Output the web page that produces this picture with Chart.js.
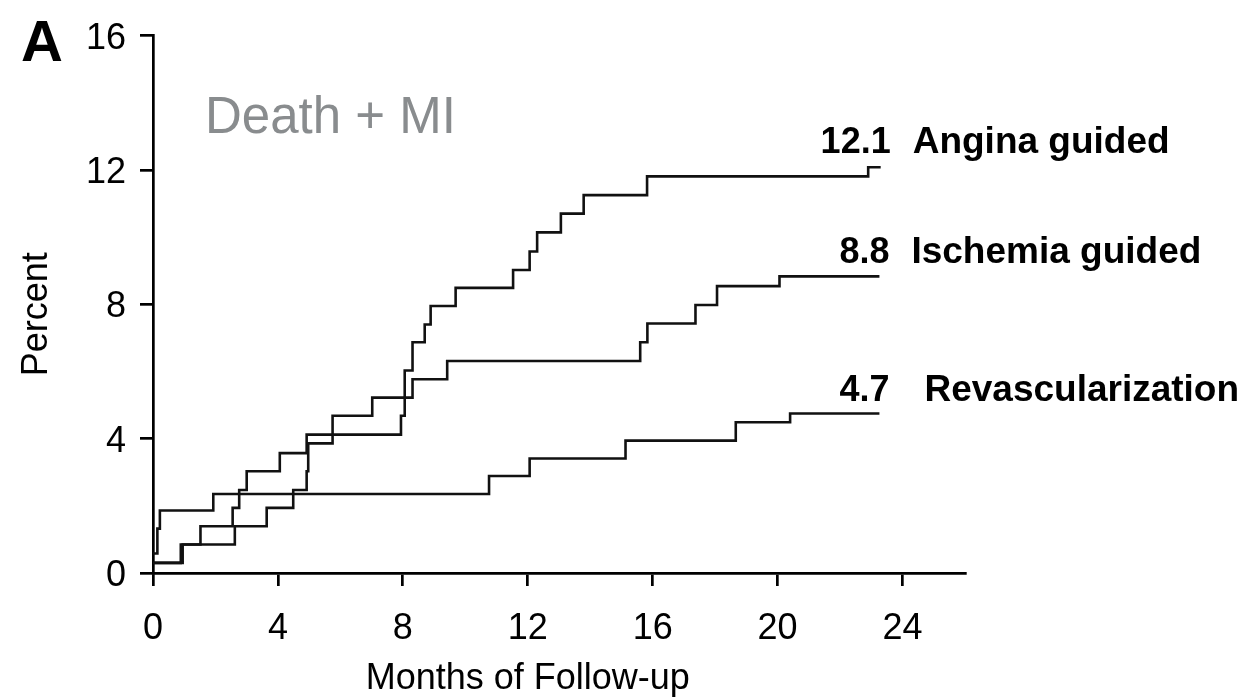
<!DOCTYPE html>
<html>
<head>
<meta charset="utf-8">
<script src="https://cdn.jsdelivr.net/npm/chart.js@4/dist/chart.umd.min.js"></script>
<style>
  html, body { margin: 0; padding: 0; background: #ffffff; }
  #wrap { width: 1246px; height: 697px; position: relative; }
  canvas { display: block; }
</style>
</head>
<body>
<div id="wrap"><canvas id="c" width="1246" height="697"></canvas></div>
<script>
// ---- Data (months of follow-up, cumulative percent after each step) ----
const xTicks = [0, 4, 8, 12, 16, 20, 24];
const yTicks = [0, 4, 8, 12, 16];

const anginaT = [0, 0.89, 1.52, 2.55, 2.76, 3.00, 4.06, 4.92, 7.94, 8.06, 8.31, 8.70, 8.89, 9.69, 11.53, 12.06, 12.30, 13.06, 13.79, 15.82, 22.90, 23.30];
const anginaV = [0.30, 0.85, 1.39, 1.94, 2.47, 3.03, 3.57, 4.12, 4.68, 6.03, 6.87, 7.40, 7.95, 8.49, 9.02, 9.57, 10.14, 10.70, 11.25, 11.81, 12.08, 12.08];

const ischemiaT = [0, 0.95, 2.62, 3.64, 4.49, 4.92, 4.97, 5.75, 7.02, 8.31, 9.42, 15.60, 15.83, 17.37, 18.06, 20.06, 23.26];
const ischemiaV = [0.30, 0.85, 1.39, 1.94, 2.47, 3.03, 3.86, 4.68, 5.22, 5.77, 6.31, 6.87, 7.43, 7.98, 8.54, 8.83, 8.83];

const revascT = [0, 0.14, 0.22, 1.93, 10.76, 12.06, 15.13, 18.66, 20.40, 23.26];
const revascV = [0.58, 1.32, 1.86, 2.35, 2.89, 3.41, 3.94, 4.49, 4.75, 4.75];

const seriesNames = ['Angina guided', 'Ischemia guided', 'Revascularization'];
const endValues = [12.1, 8.8, 4.7];
const endTimes = [23.3, 23.26, 23.26];

const panelLetter = 'A';
const panelTitle = 'Death + MI';
const xTitle = 'Months of Follow-up';
const yTitle = 'Percent';

// ---- build ----
function pts(t, v) { return t.map((x, i) => ({ x: x, y: v[i] })); }
const FONT = "'Liberation Sans', Arial, Helvetica, sans-serif";

const lineStyle = {
  borderColor: '#111111',
  borderWidth: 2.6,
  pointRadius: 0,
  fill: false,
  stepped: true,
  tension: 0,
  borderJoinStyle: 'miter',
  borderCapStyle: 'butt'
};

const annotations = {
  id: 'annotations',
  afterDraw(chart) {
    const ctx = chart.ctx;
    const xs = chart.scales.x, ys = chart.scales.y;
    ctx.save();
    ctx.fillStyle = '#000';
    // panel letter
    ctx.font = "bold 58px " + FONT;
    ctx.textAlign = 'left';
    ctx.textBaseline = 'alphabetic';
    ctx.fillText(panelLetter, 21, 61);
    // panel title
    ctx.fillStyle = '#898c8e';
    ctx.font = "51px " + FONT;
    ctx.fillText(panelTitle, 205, 133);
    // axis titles
    ctx.fillStyle = '#000';
    ctx.font = "36px " + FONT;
    ctx.textAlign = 'center';
    ctx.fillText(xTitle, xs.getPixelForValue(12), 689);
    ctx.save();
    ctx.translate(47, (ys.getPixelForValue(0) + ys.getPixelForValue(16)) / 2 + 10);
    ctx.rotate(-Math.PI / 2);
    ctx.fillText(yTitle, 0, 0);
    ctx.restore();
    // end labels
    const nameGap = [22, 22, 35];
    for (let i = 0; i < seriesNames.length; i++) {
      const yb = ys.getPixelForValue(endValues[i]) - 14;
      const xr = xs.getPixelForValue(endTimes[i]) + 10;
      ctx.font = "bold 36px " + FONT;
      ctx.textAlign = 'right';
      ctx.fillText(endValues[i].toFixed(1), xr, yb);
      ctx.font = "bold 37px " + FONT;
      ctx.textAlign = 'left';
      ctx.fillText(seriesNames[i], xr + nameGap[i], yb);
    }
    ctx.restore();
  }
};

const axisCommon = {
  grid: { display: true, drawOnChartArea: false, drawTicks: true, tickLength: 13, color: '#000', lineWidth: 2.7 },
  border: { display: true, color: '#000', width: 2.7 }
};

new Chart(document.getElementById('c'), {
  type: 'line',
  data: {
    datasets: [
      Object.assign({ label: seriesNames[0], data: pts(anginaT, anginaV) }, lineStyle),
      Object.assign({ label: seriesNames[1], data: pts(ischemiaT, ischemiaV) }, lineStyle),
      Object.assign({ label: seriesNames[2], data: pts(revascT, revascV) }, lineStyle)
    ]
  },
  options: {
    responsive: false,
    animation: false,
    devicePixelRatio: 1,
    layout: { padding: { left: 0, top: 30, right: 281, bottom: 0 }, autoPadding: false },
    plugins: { legend: { display: false }, tooltip: { enabled: false }, title: { display: false } },
    scales: {
      x: Object.assign({
        type: 'linear', position: 'bottom', min: 0, max: 26,
        afterBuildTicks: s => { s.ticks = xTicks.map(v => ({ value: v })); },
        ticks: { color: '#000', font: { family: FONT, size: 36 }, padding: 21, maxRotation: 0, autoSkip: false, includeBounds: false },
        afterFit: s => { s.height = 124; }
      }, axisCommon),
      y: Object.assign({
        type: 'linear', position: 'left', min: 0, max: 16,
        afterBuildTicks: s => { s.ticks = yTicks.map(v => ({ value: v })); },
        ticks: { color: '#000', font: { family: FONT, size: 36 }, padding: 14, labelOffset: 3, autoSkip: false },
        afterFit: s => { s.width = 153; }
      }, axisCommon)
    }
  },
  plugins: [annotations]
});
</script>
</body>
</html>
